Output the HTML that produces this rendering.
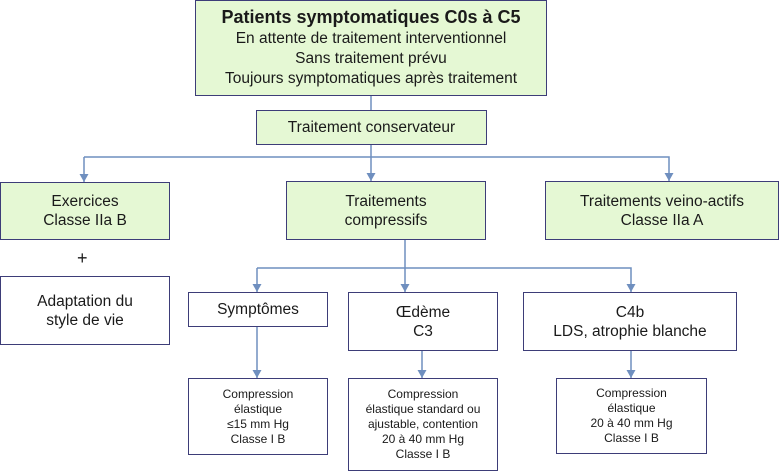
<!DOCTYPE html>
<html><head><meta charset="utf-8"><style>
body{margin:0;width:779px;height:471px;background:#fff;position:relative;overflow:hidden;font-family:"Liberation Sans",Arial,sans-serif;color:#1a1a1a}
.b{position:absolute;box-sizing:border-box;border:1.5px solid #3d3d78;display:flex;align-items:center;justify-content:center;text-align:center;font-size:15.5px;line-height:19px;background:#fff}
.g{background:#e5f8d4}
.s{font-size:12px;line-height:15px}
svg{position:absolute;left:0;top:0}
</style></head><body>
<svg width="779" height="471">
<defs><marker id="a" markerWidth="10" markerHeight="10" refX="8" refY="4.5" orient="auto" markerUnits="userSpaceOnUse"><path d="M0,0 L8,4.5 L0,9 z" fill="#6f8fbf"/></marker></defs>
<g stroke="#6f8fbf" stroke-width="1.5" fill="none">
<line x1="371" y1="95" x2="371" y2="110"/>
<line x1="371" y1="144" x2="371" y2="181" marker-end="url(#a)"/>
<polyline points="84,157 669,157 669,181" marker-end="url(#a)"/>
<line x1="84" y1="157" x2="84" y2="182" marker-end="url(#a)"/>
<line x1="405" y1="239" x2="405" y2="292" marker-end="url(#a)"/>
<polyline points="257,268 631,268 631,292" marker-end="url(#a)"/>
<line x1="257" y1="268" x2="257" y2="292" marker-end="url(#a)"/>
<line x1="257" y1="326" x2="257" y2="378" marker-end="url(#a)"/>
<line x1="422" y1="350" x2="422" y2="378" marker-end="url(#a)"/>
<line x1="631" y1="350" x2="631" y2="378" marker-end="url(#a)"/>
</g></svg>
<div class="b g" style="left:195px;top:0;width:352px;height:96px;line-height:20px;font-size:15.5px"><div><b style="font-size:18px">Patients symptomatiques C0s à C5</b><br>En attente de traitement interventionnel<br>Sans traitement prévu<br>Toujours symptomatiques après traitement</div></div>
<div class="b g" style="left:256px;top:110px;width:231px;height:35px">Traitement conservateur</div>
<div class="b g" style="left:0;top:182px;width:170px;height:58px">Exercices<br>Classe IIa B</div>
<div class="b g" style="left:286px;top:181px;width:200px;height:59px">Traitements<br>compressifs</div>
<div class="b g" style="left:545px;top:181px;width:234px;height:59px">Traitements veino-actifs<br>Classe IIa A</div>
<div style="position:absolute;left:77px;top:248px;font-size:18px">+</div>
<div class="b" style="left:0;top:276px;width:170px;height:69px">Adaptation du<br>style de vie</div>
<div class="b" style="left:188px;top:292px;width:140px;height:35px">Symptômes</div>
<div class="b" style="left:348px;top:292px;width:150px;height:59px">Œdème<br>C3</div>
<div class="b" style="left:523px;top:292px;width:214px;height:59px">C4b<br>LDS, atrophie blanche</div>
<div class="b s" style="left:188px;top:378px;width:140px;height:77px">Compression<br>élastique<br>≤15 mm Hg<br>Classe I B</div>
<div class="b s" style="left:348px;top:378px;width:150px;height:93px">Compression<br>élastique standard ou<br>ajustable, contention<br>20 à 40 mm Hg<br>Classe I B</div>
<div class="b s" style="left:556px;top:378px;width:151px;height:76px">Compression<br>élastique<br>20 à 40 mm Hg<br>Classe I B</div>
</body></html>
